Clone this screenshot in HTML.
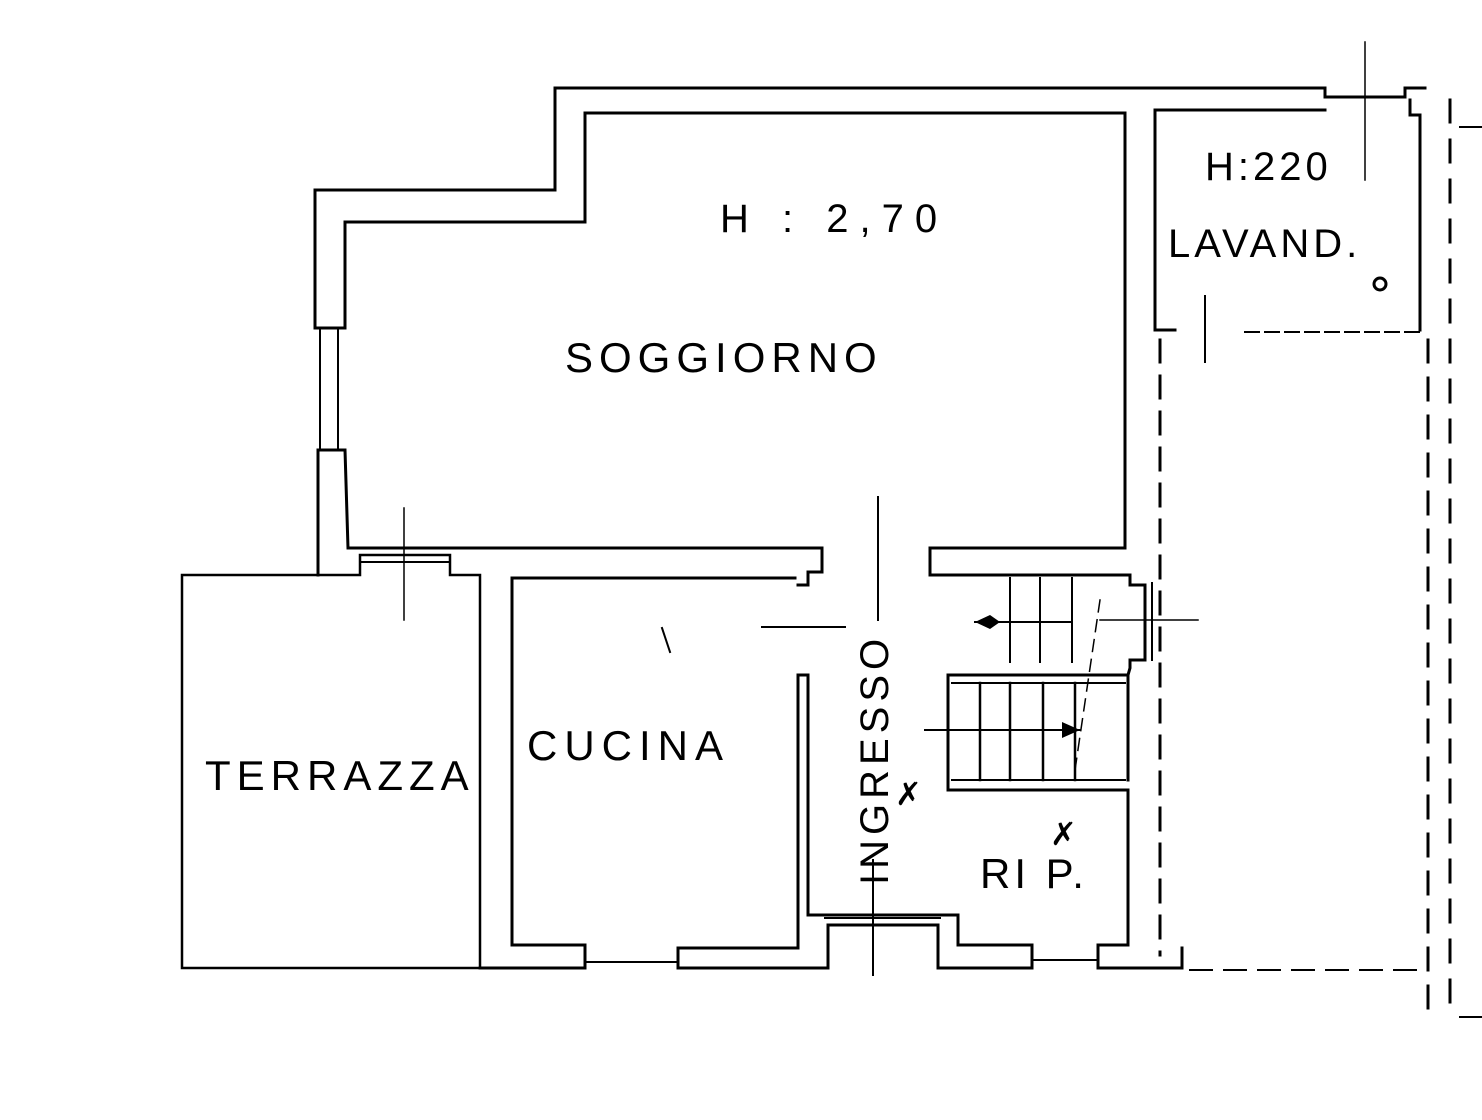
<!DOCTYPE html>
<html><head><style>
html,body{margin:0;padding:0;background:#fff;}
svg{display:block}
text{font-family:"Liberation Sans",sans-serif;fill:#000;}
</style></head><body>
<svg width="1482" height="1120" viewBox="0 0 1482 1120" xmlns="http://www.w3.org/2000/svg">
<g stroke="#000" stroke-width="3" fill="none" stroke-linecap="square">
<polyline points="315,328 315,190 555,190 555,88 1325,88 1325,97 1405,97 1405,88 1425,88"/>
<polyline points="345,328 345,222 585,222 585,113 1125,113 1125,548 930,548 930,575 1130,575"/>
<line x1="320" y1="328" x2="320" y2="450" stroke-width="2"/>
<line x1="338" y1="328" x2="338" y2="450" stroke-width="2"/>
<line x1="315" y1="328" x2="345" y2="328"/>
<polyline points="318,575 318,450 345,450 348,548 822,548 822,572 808,572 808,585 798,585"/>
<polyline points="182,968 182,575 360,575 360,555 450,555 450,575 480,575 480,968 182,968" stroke-width="2.5"/>
<line x1="360" y1="562" x2="450" y2="562" stroke-width="2"/>
<polyline points="512,945 512,578 795,578"/>
<polyline points="512,945 585,945 585,968"/>
<line x1="480" y1="968" x2="585" y2="968"/>
<line x1="585" y1="962" x2="678" y2="962" stroke-width="2"/>
<polyline points="678,968 678,948 798,948 798,675 808,675 808,915"/>
<line x1="678" y1="968" x2="828" y2="968"/>
<polyline points="808,915 958,915 958,945 1032,945 1032,968 938,968 938,925 828,925 828,968"/>
<line x1="825" y1="918" x2="940" y2="918" stroke-width="2"/>
<line x1="1032" y1="960" x2="1098" y2="960" stroke-width="2"/>
<polyline points="1098,968 1098,945 1128,945 1128,790 948,790 948,675 1128,675 1128,780"/>
<polyline points="1098,968 1182,968 1182,948"/>
<line x1="952" y1="683" x2="1125" y2="683" stroke-width="2"/>
<line x1="952" y1="780" x2="1125" y2="780" stroke-width="2"/>
<line x1="980" y1="683" x2="980" y2="780" stroke-width="2.5"/>
<line x1="1010" y1="683" x2="1010" y2="780" stroke-width="2.5"/>
<line x1="1043" y1="683" x2="1043" y2="780" stroke-width="2.5"/>
<line x1="1075" y1="683" x2="1075" y2="780" stroke-width="2.5"/>
<line x1="925" y1="730" x2="1080" y2="730" stroke-width="2"/>
<line x1="1010" y1="578" x2="1010" y2="662" stroke-width="2"/>
<line x1="1040" y1="578" x2="1040" y2="662" stroke-width="2"/>
<line x1="1072" y1="578" x2="1072" y2="662" stroke-width="2"/>
<line x1="975" y1="622" x2="1072" y2="622" stroke-width="2"/>
<polyline points="1130,575 1130,585 1145,585 1145,660 1130,660 1130,668 1128,675"/>
<line x1="1152" y1="583" x2="1152" y2="660" stroke-width="2"/>
<line x1="1100" y1="620" x2="1198" y2="620" stroke-width="1.5"/>
<polyline points="1155,328 1155,110 1325,110"/>
<polyline points="1155,330 1175,330"/>
<polyline points="1420,330 1420,115 1410,115 1410,100"/>
<line x1="1245" y1="332" x2="1420" y2="332" stroke-dasharray="14,6" stroke-width="2"/>
<line x1="1365" y1="42" x2="1365" y2="180" stroke-width="1.5"/>
<line x1="1205" y1="296" x2="1205" y2="362" stroke-width="2"/>
<circle cx="1380" cy="284" r="6"/>
<line x1="878" y1="497" x2="878" y2="620" stroke-width="2"/>
<line x1="762" y1="627" x2="845" y2="627" stroke-width="2"/>
<line x1="662" y1="628" x2="670" y2="652" stroke-width="2"/>
<line x1="404" y1="508" x2="404" y2="620" stroke-width="1.5"/>
<line x1="873" y1="860" x2="873" y2="975" stroke-width="2"/>
<line x1="1100" y1="600" x2="1075" y2="770" stroke-width="1.5" stroke-dasharray="12,8"/>
<line x1="1160" y1="340" x2="1160" y2="955" stroke-dasharray="22,14" stroke-width="3"/>
<line x1="1428" y1="340" x2="1428" y2="1015" stroke-dasharray="22,16" stroke-width="3"/>
<line x1="1450" y1="100" x2="1450" y2="1015" stroke-dasharray="22,18" stroke-width="3"/>
<line x1="1190" y1="970" x2="1428" y2="970" stroke-dasharray="22,12" stroke-width="2"/>
<line x1="1460" y1="127" x2="1482" y2="127" stroke-width="2"/>
<line x1="1460" y1="1017" x2="1482" y2="1017" stroke-width="2"/>
</g>
<g fill="#000">
<polygon points="975,622 990,615 1000,622 990,629"/>
<polygon points="1080,730 1062,722 1062,738"/>
</g>
<text x="720" y="232" font-size="40" letter-spacing="11">H : 2,70</text>
<text x="565" y="372" font-size="42" letter-spacing="6">SOGGIORNO</text>
<text x="1205" y="180" font-size="40" letter-spacing="4">H:220</text>
<text x="1168" y="257" font-size="40" letter-spacing="4">LAVAND.</text>
<text x="205" y="790" font-size="42" letter-spacing="6">TERRAZZA</text>
<text x="527" y="760" font-size="42" letter-spacing="7">CUCINA</text>
<text x="980" y="888" font-size="42" letter-spacing="4">RI P.</text>
<text transform="translate(888,885) rotate(-90)" font-size="40" letter-spacing="5">INGRESSO</text>
<text x="895" y="805" font-size="32">✗</text>
<text x="1050" y="845" font-size="32">✗</text>
</svg>
</body></html>
